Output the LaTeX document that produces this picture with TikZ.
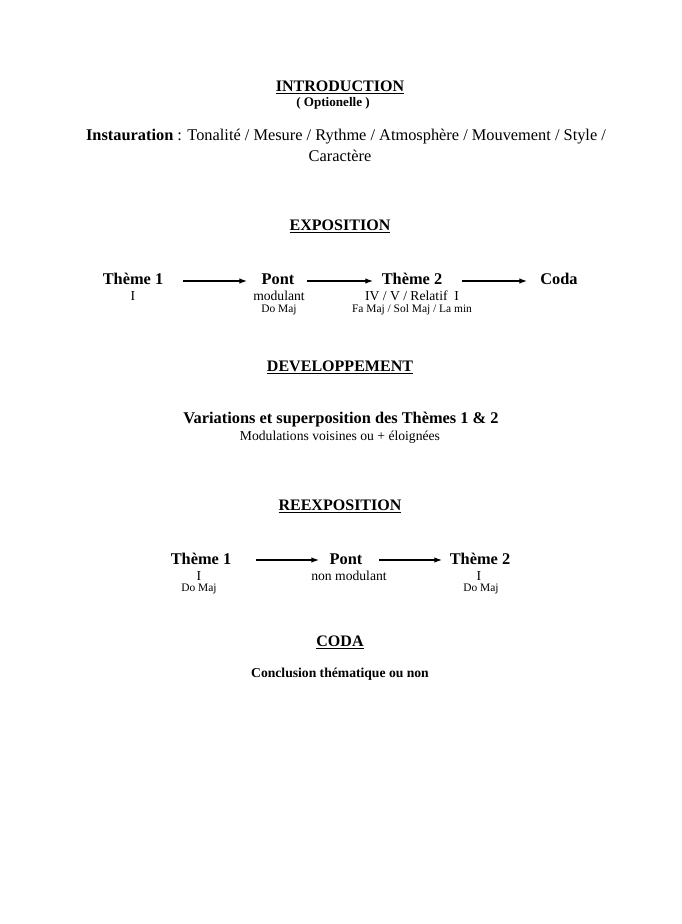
\documentclass[tikz,border=0pt]{standalone}
\usepackage{fontspec}
\setmainfont{Liberation Serif}
\usetikzlibrary{arrows.meta}
\begin{document}
\begin{tikzpicture}[x=0.917pt,y=-0.917pt,
  every node/.style={inner sep=0pt,outer sep=2pt},
  head/.style={font=\fontsize{14.7}{17}\selectfont\bfseries},
  big/.style={font=\fontsize{15}{17}\selectfont\bfseries},
  mid/.style={font=\fontsize{12.5}{14}\selectfont},
  small/.style={font=\fontsize{10.5}{12}\selectfont},
  arr/.style={-{Latex[length=7pt,width=5pt]},line width=1.1pt}]
\useasboundingbox (0,0) rectangle (681,924);
% Introduction
\node[head] (intro) at (340,87) {\underline{INTRODUCTION}};
\node[font=\fontsize{12}{14}\selectfont\bfseries] (opt) at (333,103) {( Optionelle )};
\node[font=\fontsize{15}{17}\selectfont] (inst) at (346,137) {\textbf{Instauration} : Tonalité / Mesure / Rythme / Atmosphère / Mouvement / Style /};
\node[font=\fontsize{15}{17}\selectfont] (car) at (340,156) {Caractère};
% Exposition
\node[head] (expo) at (340,226) {\underline{EXPOSITION}};
\node[big] (t1) at (133,279) {Thème 1};
\node[mid] (t1a) at (133,296) {I};
\node[big] (p) at (278,279) {Pont};
\node[mid] (pa) at (279,296) {modulant};
\node[small] (pb) at (279,310) {Do Maj};
\node[big] (t2) at (412,279) {Thème 2};
\node[mid] (t2a) at (412,296) {IV / V / Relatif\ \ I};
\node[small] (t2b) at (412,310) {Fa Maj / Sol Maj / La min};
\node[big] (c) at (559,279) {Coda};
\coordinate (a1s) at (183,281); \coordinate (a1e) at (247,281);
\coordinate (a2s) at (307,281); \coordinate (a2e) at (373,281);
\coordinate (a3s) at (462,281); \coordinate (a3e) at (527,281);
\draw[arr] (a1s) -- (a1e);
\draw[arr] (a2s) -- (a2e);
\draw[arr] (a3s) -- (a3e);
% Developpement
\node[head] (dev) at (340,367) {\underline{DEVELOPPEMENT}};
\node[big] (var) at (341,420) {Variations et superposition des Thèmes 1 \& 2};
\node[mid] (mod) at (340,437) {Modulations voisines ou + éloignées};
% Reexposition
\node[head] (reexpo) at (340,506) {\underline{REEXPOSITION}};
\node[big] (r1) at (201,559) {Thème 1};
\node[mid] (r1a) at (199,576) {I};
\node[small] (r1b) at (199,589) {Do Maj};
\node[big] (rp) at (346,559) {Pont};
\node[mid] (rpa) at (349,576) {non modulant};
\node[big] (r2) at (480,559) {Thème 2};
\node[mid] (r2a) at (479,576) {I};
\node[small] (r2b) at (481,589) {Do Maj};
\coordinate (b1s) at (256,560); \coordinate (b1e) at (319,560);
\coordinate (b2s) at (379,560); \coordinate (b2e) at (442,560);
\draw[arr] (b1s) -- (b1e);
\draw[arr] (b2s) -- (b2e);
% Coda
\node[head] (coda) at (340,642) {\underline{CODA}};
\node[font=\fontsize{12.5}{14}\selectfont\bfseries] (concl) at (340,674) {Conclusion thématique ou non};
\end{tikzpicture}
\end{document}
